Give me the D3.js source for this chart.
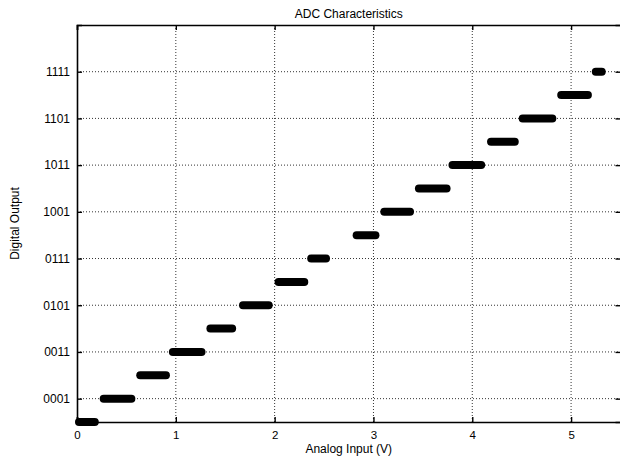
<!DOCTYPE html>
<html><head><meta charset="utf-8">
<script src="https://cdn.jsdelivr.net/npm/d3@7"></script>
<style>body{margin:0;background:#fff}svg{display:block}text{font-family:"Liberation Sans",Arial,sans-serif;fill:#000}</style>
</head><body>
<script>
const codes  = [0,1,2,3,4,5,6,7,8,9,10,11,12,13,14,15];
const starts = [0.02,0.27,0.64,0.97,1.35,1.68,2.04,2.37,2.83,3.11,3.46,3.80,4.19,4.51,4.90,5.25];
const ends   = [0.18,0.55,0.90,1.26,1.57,1.94,2.30,2.52,3.02,3.37,3.74,4.09,4.43,4.81,5.17,5.31];
const xTicks = [0,1,2,3,4,5];
const yTicks = [1,3,5,7,9,11,13,15];
const yTickLabels = ["0001","0011","0101","0111","1001","1011","1101","1111"];

const W=620,H=456, L=77, R=620.5, T=25, B=422;
const svg=d3.select("body").append("svg").attr("width",W).attr("height",H);
const x=d3.scaleLinear().domain([0,5.5]).range([L,R]);
const y=d3.scaleLinear().domain([0,17]).range([B,T]);

// grid
const g=svg.append("g");
g.selectAll(".gx").data(xTicks.filter(d=>d>0)).enter().append("line")
 .attr("x1",d=>x(d)).attr("x2",d=>x(d)).attr("y1",T).attr("y2",B)
 .attr("stroke","#333").attr("stroke-width",1).attr("stroke-dasharray","1,2");
g.selectAll(".gy").data(yTicks).enter().append("line")
 .attr("x1",L).attr("x2",R).attr("y1",d=>y(d)).attr("y2",d=>y(d))
 .attr("stroke","#333").attr("stroke-width",1).attr("stroke-dasharray","1,2");

// axes
const fmtY=d=>yTickLabels[yTicks.indexOf(d)];
const ax=svg.append("g").attr("transform",`translate(0,${B})`)
 .call(d3.axisBottom(x).tickValues(xTicks).tickSize(-5).tickPadding(9).tickFormat(d3.format("d")));
const ay=svg.append("g").attr("transform",`translate(${L},0)`)
 .call(d3.axisLeft(y).tickValues(yTicks).tickSize(-5).tickPadding(7).tickFormat(fmtY));
const axT=svg.append("g").attr("transform",`translate(0,${T})`)
 .call(d3.axisTop(x).tickValues(xTicks).tickSize(-5).tickFormat(""));
const ayR=svg.append("g").attr("transform",`translate(${R},0)`)
 .call(d3.axisRight(y).tickValues(yTicks).tickSize(-5).tickFormat(""));
[ax,ay,axT,ayR].forEach(a=>{
  a.select(".domain").attr("stroke","#000").attr("stroke-width",1.6);
  a.selectAll(".tick line").attr("stroke","#000").attr("stroke-width",1.4);
  a.selectAll("text").style("font-size","12px").attr("fill","#000");
});
ax.selectAll("text").style("font-size","11.5px").attr("dy","0.71em");

// steps
svg.append("g").selectAll("line").data(codes).enter().append("line")
 .attr("x1",(d,i)=>x(starts[i])).attr("x2",(d,i)=>x(ends[i]))
 .attr("y1",d=>y(d)).attr("y2",d=>y(d))
 .attr("stroke","#000").attr("stroke-width",8).attr("stroke-linecap","round");

// labels
svg.append("text").attr("x",(L+R)/2).attr("y",18).attr("text-anchor","middle").style("font-size","12px").text("ADC Characteristics");
svg.append("text").attr("x",(L+R)/2).attr("y",453).attr("text-anchor","middle").style("font-size","12px").text("Analog Input (V)");
svg.append("text").attr("transform",`translate(19,${(T+B)/2}) rotate(-90)`).attr("text-anchor","middle").style("font-size","12px").text("Digital Output");
</script>
</body></html>
